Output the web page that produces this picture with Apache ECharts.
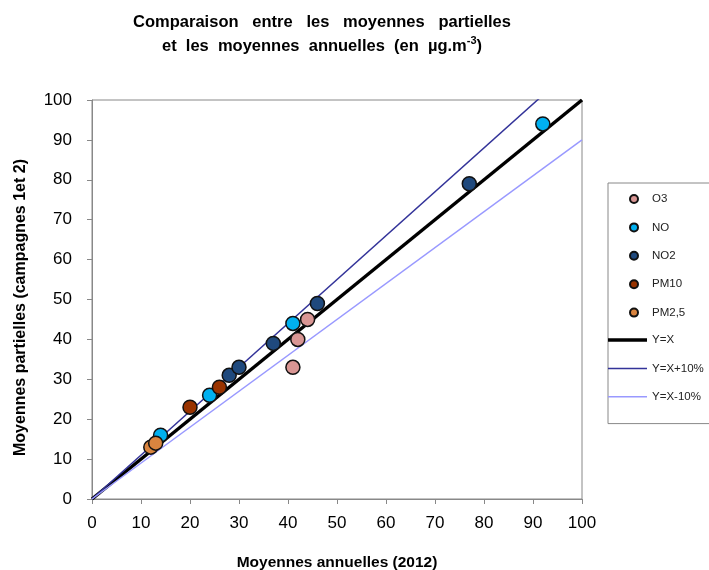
<!DOCTYPE html>
<html>
<head>
<meta charset="utf-8">
<script src="https://cdn.jsdelivr.net/npm/echarts@6/dist/echarts.min.js"></script>
<style>
  html, body { margin: 0; padding: 0; background: #fff; }
  #chart { width: 709px; height: 570px; }
</style>
</head>
<body>
<div id="chart"></div>
<script>
// points: [moyenne annuelle, moyenne partielle]
const o3 = [[41, 33], [42, 40], [44, 45]];
const no = [[14, 16], [24, 26], [41, 44], [92, 94]];
const no2 = [[28, 31], [30, 33], [37, 39], [46, 49], [77, 79]];
const pm10 = [[20, 23], [26, 28]];
const pm25 = [[12, 13], [13, 14]];

// reference lines (end points, clipped by the axes)
const lineYX = [[0, 0], [100, 100]];
const lineYXplus = [[0, 0], [100, 110]];
const lineYXminus = [[0, 0], [100, 90]];

const axisTicks = [0, 10, 20, 30, 40, 50, 60, 70, 80, 90, 100];
const pointNames = ["O3", "NO", "NO2", "PM10", "PM2,5"];

const chart = echarts.init(document.getElementById("chart"));

function pointSeries(name, data, color) {
  return {
    name: name,
    type: "scatter",
    data: data,
    symbol: "circle",
    symbolSize: 14,
    z: 5,
    itemStyle: { color: color, borderColor: "#111", borderWidth: 1.5, opacity: 1 }
  };
}

function refLine(name, data, color, width) {
  return {
    name: name,
    type: "line",
    data: data,
    symbol: "none",
    clip: true,
    z: 2,
    itemStyle: { color: color },
    lineStyle: { color: color, width: width }
  };
}

const legendFont = { fontFamily: "Liberation Sans, Arial", fontSize: 11.5, color: "#222" };

chart.setOption({
  animation: false,
  title: {
    text: "Comparaison   entre   les   moyennes   partielles\net  les  moyennes  annuelles  (en  µg.m{sup|-3})",
    left: 317,
    textAlign: "center",
    top: 5,
    textStyle: {
      fontFamily: "Liberation Sans, Arial",
      fontSize: 16.5,
      fontWeight: "bold",
      color: "#000",
      lineHeight: 24,
      rich: {
        sup: { fontSize: 11, fontWeight: "bold", color: "#000", padding: [0, 0, 10, 0] }
      }
    }
  },
  legend: [
    {
      // markers + box border around the whole legend
      orient: "vertical",
      left: 608,
      top: 183,
      itemWidth: 26,
      itemHeight: 8,
      itemGap: 16.4,
      padding: [10, 40, 105, 21],
      borderColor: "#888",
      borderWidth: 1,
      textStyle: legendFont,
      data: pointNames.map(n => ({ name: n, icon: "circle" }))
    },
    {
      orient: "vertical",
      left: 608,
      top: 334,
      itemWidth: 39,
      itemHeight: 8,
      itemGap: 16.4,
      padding: 0,
      textStyle: legendFont,
      data: [
        { name: "Y=X", icon: "path://M0,0h40v3.5h-40z" },
        { name: "Y=X+10%", icon: "path://M0,0h40v1.5h-40z" },
        { name: "Y=X-10%", icon: "path://M0,0h40v1.5h-40z" }
      ]
    }
  ],
  grid: {
    left: 92,
    right: 127,
    top: 100,
    bottom: 71,
    outerBoundsMode: "none",
    containLabel: false,
    show: true,
    borderColor: "#888",
    borderWidth: 1
  },
  xAxis: {
    type: "value",
    min: 0,
    max: 100,
    interval: 10,
    name: "Moyennes annuelles (2012)",
    nameLocation: "middle",
    nameGap: 56,
    nameTextStyle: { fontFamily: "Liberation Sans, Arial", fontSize: 15.5, fontWeight: "bold", color: "#000" },
    axisLine: { lineStyle: { color: "#888", width: 1 } },
    axisTick: { show: true, inside: false, length: 5, lineStyle: { color: "#888" } },
    axisLabel: {
      fontFamily: "Liberation Sans, Arial", fontSize: 17, color: "#000", margin: 16,
      formatter: v => axisTicks.includes(v) ? String(v) : ""
    },
    splitLine: { show: false }
  },
  yAxis: {
    type: "value",
    min: 0,
    max: 100,
    interval: 10,
    name: "Moyennes partielles (campagnes 1et 2)",
    nameLocation: "middle",
    nameGap: 63,
    nameTextStyle: {
      fontFamily: "Liberation Sans, Arial", fontSize: 16, fontWeight: "bold", color: "#000",
      padding: [0, 16, 0, 0]
    },
    axisLine: { lineStyle: { color: "#888", width: 1 } },
    axisTick: { show: true, inside: false, length: 5, lineStyle: { color: "#888" } },
    axisLabel: {
      fontFamily: "Liberation Sans, Arial", fontSize: 17, color: "#000", margin: 20,
      formatter: v => axisTicks.includes(v) ? String(v) : ""
    },
    splitLine: { show: false }
  },
  series: [
    pointSeries("O3", o3, "#d99694"),
    pointSeries("NO", no, "#00b0f0"),
    pointSeries("NO2", no2, "#1f497d"),
    pointSeries("PM10", pm10, "#993300"),
    pointSeries("PM2,5", pm25, "#d9843f"),
    refLine("Y=X", lineYX, "#000000", 3.5),
    refLine("Y=X+10%", lineYXplus, "#333399", 1.5),
    refLine("Y=X-10%", lineYXminus, "#9999ff", 1.5)
  ]
});
</script>
</body>
</html>
